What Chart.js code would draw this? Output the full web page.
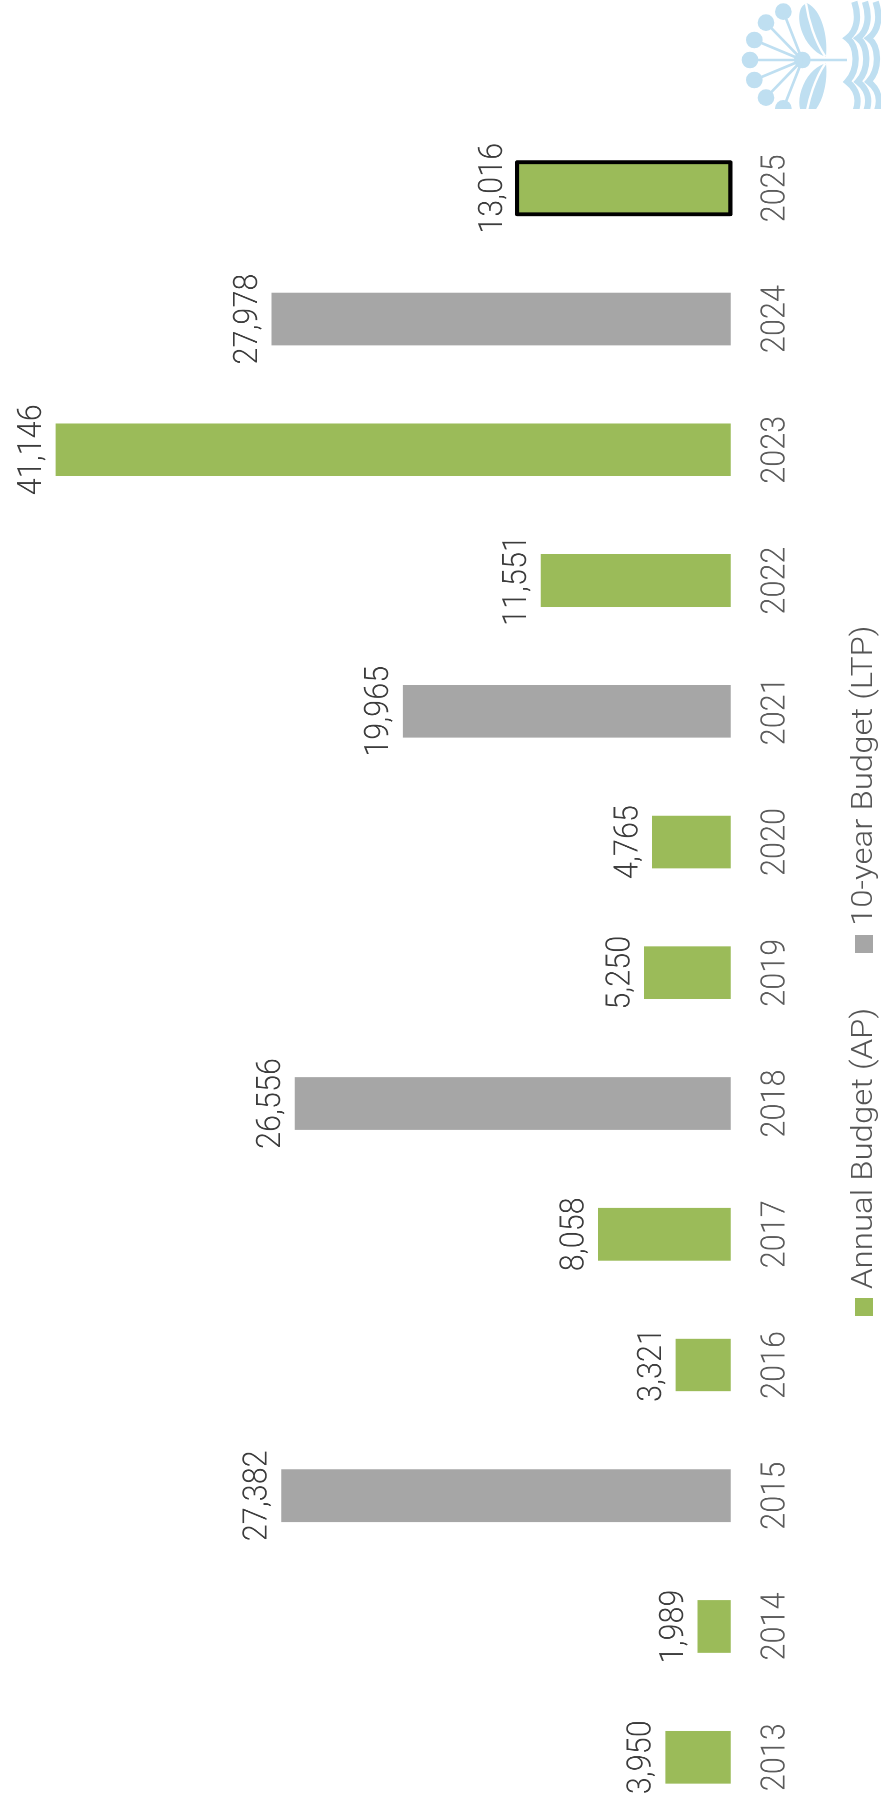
<!DOCTYPE html>
<html>
<head>
<meta charset="utf-8">
<title>Budget consultation submissions</title>
<script src="https://cdn.jsdelivr.net/npm/chart.js@4"></script>
<style>
  html, body { margin: 0; padding: 0; background: #fff; }
  #page { position: relative; width: 881px; height: 1800px; overflow: hidden; background: #fff; }
  /* the chart is laid out sideways, so the canvas is turned a quarter turn */
  #chartWrap {
    position: absolute; left: 0; top: 0; width: 1935px; height: 881px;
    transform-origin: 0 0;
    transform: translateY(1800px) rotate(-90deg) scaleX(0.93);
  }
  #logo { position: absolute; left: 720px; top: 0; width: 161px; height: 109px; }
  .legendItem {
    position: absolute; left: 848px; height: 30px; line-height: 30px; white-space: nowrap;
    font: 300 30px Roboto, sans-serif; color: #555;
    transform-origin: 0 0;
  }
  .legendText { position: absolute; left: 27px; top: -4px; transform-origin: 0 50%; transform: scaleX(1.1); }
  .legendBox { position: absolute; left: 0; top: 7px; width: 18px; height: 18px; }
</style>
</head>
<body>
<div id="page">
  <div id="chartWrap"><canvas id="budgetChart"></canvas></div>
  <div id="legend"></div>
  <svg id="logo" viewBox="0 0 483 327">
    <g fill="#bfdff1" stroke="none">
      <circle cx="190" cy="35" r="25"/><circle cx="138" cy="68" r="25"/>
      <circle cx="103" cy="120" r="25"/><circle cx="90" cy="180" r="25"/>
      <circle cx="103" cy="240" r="25"/><circle cx="138" cy="293" r="25"/>
      <circle cx="190" cy="325" r="25"/><circle cx="247" cy="180" r="25"/>
      <path d="M262 10 C235 15 230 60 250 105 C265 140 295 165 318 170 C325 110 305 30 262 10Z"/>
      <path d="M262 350 C235 345 230 300 250 255 C265 220 295 195 318 190 C325 250 305 330 262 350Z"/>
    </g>
    <g stroke="#bfdff1" stroke-width="8" fill="none">
      <path d="M247 180 L190 35 M247 180 L138 68 M247 180 L103 120 M247 180 L90 180 M247 180 L103 240 M247 180 L138 293 M247 180 L190 325"/>
      <path d="M247 180 H381"/>
    </g>
    <g stroke="#fff" stroke-width="7" fill="none">
      <path d="M258 10 C265 60 285 125 316 170"/>
      <path d="M258 350 C265 300 285 235 316 190"/>
    </g>
    <g stroke="#bfdff1" stroke-width="19" fill="none">
      <path d="M403 5 C418 50 412 92 382 115 C412 138 418 205 382 245 C412 268 418 300 408 330"/>
      <path d="M435 5 C450 50 444 92 414 115 C444 138 450 205 414 245 C444 268 450 300 440 330"/>
      <path d="M467 5 C482 50 476 92 446 115 C476 138 482 205 446 245 C476 268 482 300 472 330"/>
    </g>
  </svg>
</div>
<script>
// data
const years = ["2013", "2014", "2015", "2016", "2017", "2018", "2019", "2020", "2021", "2022", "2023", "2024", "2025"];
const submissions = [3950, 1989, 27382, 3321, 8058, 26556, 5250, 4765, 19965, 11551, 41146, 27978, 13016];
const budgetTypes = ["AP", "AP", "LTP", "AP", "AP", "LTP", "AP", "AP", "LTP", "AP", "AP", "LTP", "AP"];
const highlightYear = "2025";

const legendLabels = { AP: "Annual Budget (AP)", LTP: "10-year Budget (LTP)" };
const typeColors = { AP: "#9bbb59", LTP: "#a6a6a6" };

// value labels above each bar, plus the outline on the current year
const barExtras = {
  id: "barExtras",
  afterDatasetsDraw(chart) {
    const ctx = chart.ctx;
    const bars = chart.getDatasetMeta(0).data;
    ctx.save();
    bars.forEach((bar, i) => {
      if (years[i] === highlightYear) {
        ctx.strokeStyle = "#000";
        ctx.lineWidth = 4.2;
        ctx.lineJoin = "round";
        ctx.strokeRect(bar.x - bar.width / 2, bar.y, bar.width, bar.base - bar.y);
      }
      ctx.font = "300 33px Roboto, sans-serif";
      ctx.fillStyle = "#3c3c3c";
      ctx.textAlign = "center";
      ctx.textBaseline = "alphabetic";
      ctx.fillText(submissions[i].toLocaleString("en-US"), bar.x, bar.y - 15);
    });
    ctx.restore();
  }
};

const canvas = document.getElementById("budgetChart");
canvas.style.width = "1935px";
canvas.style.height = "881px";

new Chart(canvas, {
  type: "bar",
  data: {
    labels: years,
    datasets: [{
      data: submissions,
      backgroundColor: budgetTypes.map(t => typeColors[t]),
      barThickness: 56,
      borderWidth: 0,
      clip: false
    }]
  },
  plugins: [barExtras],
  options: {
    responsive: false,
    animation: false,
    devicePixelRatio: 2,
    layout: { padding: { left: 46, right: 202, top: 56, bottom: 67 } },
    plugins: { legend: { display: false }, tooltip: { enabled: false } },
    scales: {
      x: {
        offset: false,
        grid: { display: false },
        border: { display: false },
        // first and last labels may overhang, the layout padding is exact
        afterFit(scale) {
          scale.paddingLeft = 0;
          scale.paddingRight = 0;
        },
        ticks: {
          autoSkip: false, maxRotation: 0, padding: 18,
          color: "#5c5c5c",
          font: { family: "Roboto", size: 33, weight: "300" }
        }
      },
      y: { display: false, min: 0, max: Math.max(...submissions) }
    }
  }
});

// legend sits in its own strip along the right edge
const legendEl = document.getElementById("legend");
[["AP", 1316], ["LTP", 953]].forEach(([type, bottom]) => {
  const item = document.createElement("div");
  item.className = "legendItem";
  item.style.top = bottom + "px";
  item.style.transform = "rotate(-90deg)";
  item.innerHTML = `<span class="legendBox" style="background:${typeColors[type]}"></span>` +
    `<span class="legendText">${legendLabels[type]}</span>`;
  legendEl.appendChild(item);
});
</script>
</body>
</html>
